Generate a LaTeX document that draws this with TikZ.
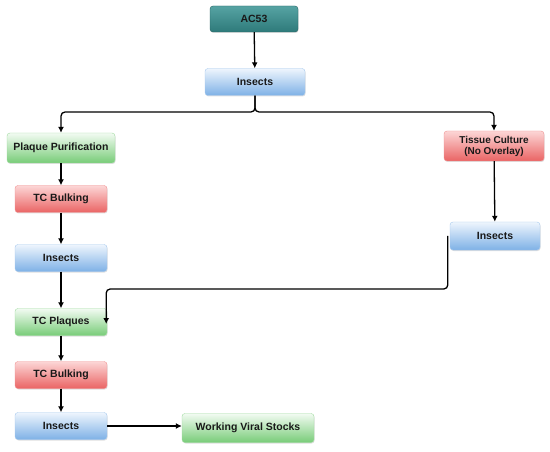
\documentclass[tikz,border=0pt]{standalone}
\usepackage{fontspec}
\setmainfont{Liberation Sans}
\usetikzlibrary{arrows.meta,shadows}
\definecolor{tealT}{HTML}{56A3A3}
\definecolor{tealB}{HTML}{2E7A7A}
\definecolor{blueT}{HTML}{EEF5FD}
\definecolor{blueB}{HTML}{7EB1E6}
\definecolor{greenT}{HTML}{F2FBF2}
\definecolor{greenB}{HTML}{78CC78}
\definecolor{redT}{HTML}{FCD6D6}
\definecolor{redB}{HTML}{EA6464}
\tikzset{
  box/.style={rounded corners=3pt, minimum height=27pt, inner sep=1pt, align=center,
    font=\fontsize{10.5}{12}\selectfont\bfseries, text=black!90,
    drop shadow={shadow xshift=0.6pt, shadow yshift=-1pt, opacity=0.25}},
  tealbox/.style={box, top color=tealT, bottom color=tealB, draw=tealB!80!black, line width=0.4pt},
  bluebox/.style={box, top color=blueT, bottom color=blueB, draw=blueB!70!white, line width=0.4pt},
  greenbox/.style={box, top color=greenT, bottom color=greenB, draw=greenB!70!white, line width=0.4pt},
  redbox/.style={box, top color=redT, bottom color=redB, draw=redB!70!white, line width=0.4pt},
  arr/.style={-{Latex[length=6pt,width=6pt]}, line width=1.3pt, black}
}
\begin{document}
\begin{tikzpicture}[x=1pt,y=-1pt]
\useasboundingbox (0,0) rectangle (550,452);
\node[tealbox, minimum width=88pt, minimum height=26pt] (ac) at (254,19) {AC53};
\node[bluebox, minimum width=100pt] (ins1) at (255,82) {Insects};
\node[greenbox, minimum width=108pt, minimum height=30pt] (pp) at (61,148) {Plaque Purification};
\node[redbox, minimum width=92pt] (tcb1) at (61,199) {TC Bulking};
\node[bluebox, minimum width=92pt] (ins2) at (61,258) {Insects};
\node[greenbox, minimum width=92pt] (tcp) at (61,322) {TC Plaques};
\node[redbox, minimum width=92pt] (tcb2) at (61,375) {TC Bulking};
\node[bluebox, minimum width=92pt] (ins3) at (61,426) {Insects};
\node[greenbox, minimum width=132pt, minimum height=29pt] (wvs) at (248,428) {Working Viral Stocks};
\node[redbox, minimum width=100pt, minimum height=30pt, font=\fontsize{10}{11}\selectfont\bfseries] (tc) at (494,146) {Tissue Culture\\(No Overlay)};
\node[bluebox, minimum width=90pt, minimum height=28pt] (insR) at (495,236) {Insects};
\coordinate (br) at (255,112);
\coordinate (low) at (0,289);
\draw[arr] (ac) -- (ins1);
\draw[arr, rounded corners=4pt] (ins1.south) -- (br) -| (pp.north);
\draw[arr, rounded corners=4pt] (ins1.south) -- (br) -| (tc.north);
\draw[arr] (pp) -- (tcb1);
\draw[arr] (tcb1) -- (ins2);
\draw[arr] (ins2) -- (tcp);
\draw[arr] (tcp) -- (tcb2);
\draw[arr] (tcb2) -- (ins3);
\draw[arr] (ins3.east) -- (wvs.west |- ins3.east);
\draw[arr] (tc) -- (insR);
\draw[arr, rounded corners=4pt] ([xshift=-2pt]insR.west) -- ([xshift=-2pt]insR.west |- low) -| ([xshift=-1pt,yshift=-2pt]tcp.east);
\end{tikzpicture}
\end{document}
